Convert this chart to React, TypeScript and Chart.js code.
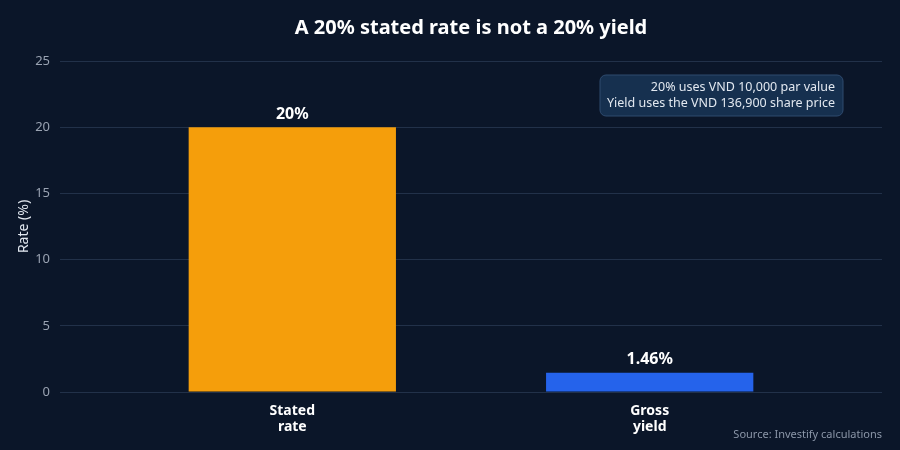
import { useEffect, useRef } from "react";
import { Chart, registerables } from "chart.js";

Chart.register(...registerables);

const categories = [["Stated", "rate"], ["Gross", "yield"]];
const rates = [20, 1.46];
const barLabels = ["20%", "1.46%"];
const barColors = ["#f59e0b", "#2563eb"];
const yTicks = [0, 5, 10, 15, 20, 25];
const noteLines = ["20% uses VND 10,000 par value", "Yield uses the VND 136,900 share price"];
const titleText = "A 20% stated rate is not a 20% yield";
const sourceText = "Source: Investify calculations";

const FONT = "'Noto Sans', sans-serif";
const BG = "#0b1629";

const overlay = {
  id: "overlay",
  beforeDraw(chart: any) {
    const { ctx, width, height } = chart;
    ctx.save();
    ctx.fillStyle = BG;
    ctx.fillRect(0, 0, width, height);
    ctx.restore();
  },
  afterDatasetsDraw(chart: any) {
    const { ctx, chartArea } = chart;
    const meta = chart.getDatasetMeta(0);
    ctx.save();

    // title
    ctx.fillStyle = "#ffffff";
    ctx.font = `bold 20px ${FONT}`;
    ctx.textAlign = "center";
    ctx.textBaseline = "middle";
    ctx.fillText(titleText, (chartArea.left + chartArea.right) / 2, 28);

    // bar value labels
    ctx.font = `bold 16px ${FONT}`;
    ctx.textBaseline = "bottom";
    meta.data.forEach((bar: any, i: number) => {
      ctx.fillText(barLabels[i], bar.x, bar.y - 5);
    });

    // note box
    const bx = 600, by = 75, bw = 243, bh = 41;
    ctx.beginPath();
    ctx.roundRect(bx, by, bw, bh, 6);
    ctx.fillStyle = "#16304f";
    ctx.fill();
    ctx.strokeStyle = "#2e4a6e";
    ctx.lineWidth = 1;
    ctx.stroke();
    ctx.fillStyle = "#e2e8f0";
    ctx.font = `12.5px ${FONT}`;
    ctx.textAlign = "right";
    ctx.textBaseline = "middle";
    noteLines.forEach((line, i) => {
      ctx.fillText(line, bx + bw - 8, by + 12 + i * 16);
    });

    // source
    ctx.fillStyle = "#8b96a8";
    ctx.font = `11px ${FONT}`;
    ctx.fillText(sourceText, chartArea.right, 435);

    ctx.restore();
  },
};

export default function App() {
  const canvasRef = useRef<HTMLCanvasElement>(null);
  const chartRef = useRef<Chart | null>(null);

  useEffect(() => {
    document.body.style.margin = "0";
    if (!canvasRef.current) return;
    if (chartRef.current) chartRef.current.destroy();

    chartRef.current = new Chart(canvasRef.current, {
      type: "bar",
      data: {
        datasets: [
          {
            data: rates.map((v, i) => ({ x: i, y: v })),
            backgroundColor: barColors,
            borderWidth: 0,
            barPercentage: 0.58,
            categoryPercentage: 1,
          },
        ],
      },
      plugins: [overlay],
      options: {
        responsive: false,
        animation: false,
        layout: { padding: { top: 61, right: 18, left: 0, bottom: 0 } },
        plugins: {
          legend: { display: false },
          tooltip: { enabled: false },
        },
        scales: {
          x: {
            type: "linear",
            min: -0.65,
            max: 1.65,
            offset: false,
            grid: { display: false, offset: false },
            border: { display: false },
            afterBuildTicks: (scale: any) => {
              scale.ticks = categories.map((_, i) => ({ value: i }));
            },
            afterFit: (scale: any) => {
              scale.height = 58;
            },
            ticks: {
              autoSkip: false,
              maxRotation: 0,
              padding: 3,
              color: "#ffffff",
              font: { family: FONT, size: 14, weight: "bold", lineHeight: 1.15 },
              callback: (v: any) => categories[Math.round(Number(v))] ?? "",
            },
          },
          y: {
            min: 0,
            max: 25,
            afterBuildTicks: (scale: any) => {
              scale.ticks = yTicks.map((v) => ({ value: v }));
            },
            afterFit: (scale: any) => {
              scale.width = 60;
            },
            grid: { color: "#223149", lineWidth: 1, drawTicks: false },
            border: { display: false },
            ticks: {
              padding: 10,
              color: "#9aa3b2",
              font: { family: FONT, size: 13 },
            },
            title: {
              display: true,
              text: "Rate (%)",
              color: "#e2e8f0",
              padding: { top: 16, bottom: 0 },
              font: { family: FONT, size: 14 },
            },
          },
        },
      },
    });

    return () => {
      if (chartRef.current) {
        chartRef.current.destroy();
        chartRef.current = null;
      }
    };
  }, []);

  return (
    <div style={{ width: 900, height: 450, background: BG }}>
      <canvas ref={canvasRef} width={900} height={450} />
    </div>
  );
}
